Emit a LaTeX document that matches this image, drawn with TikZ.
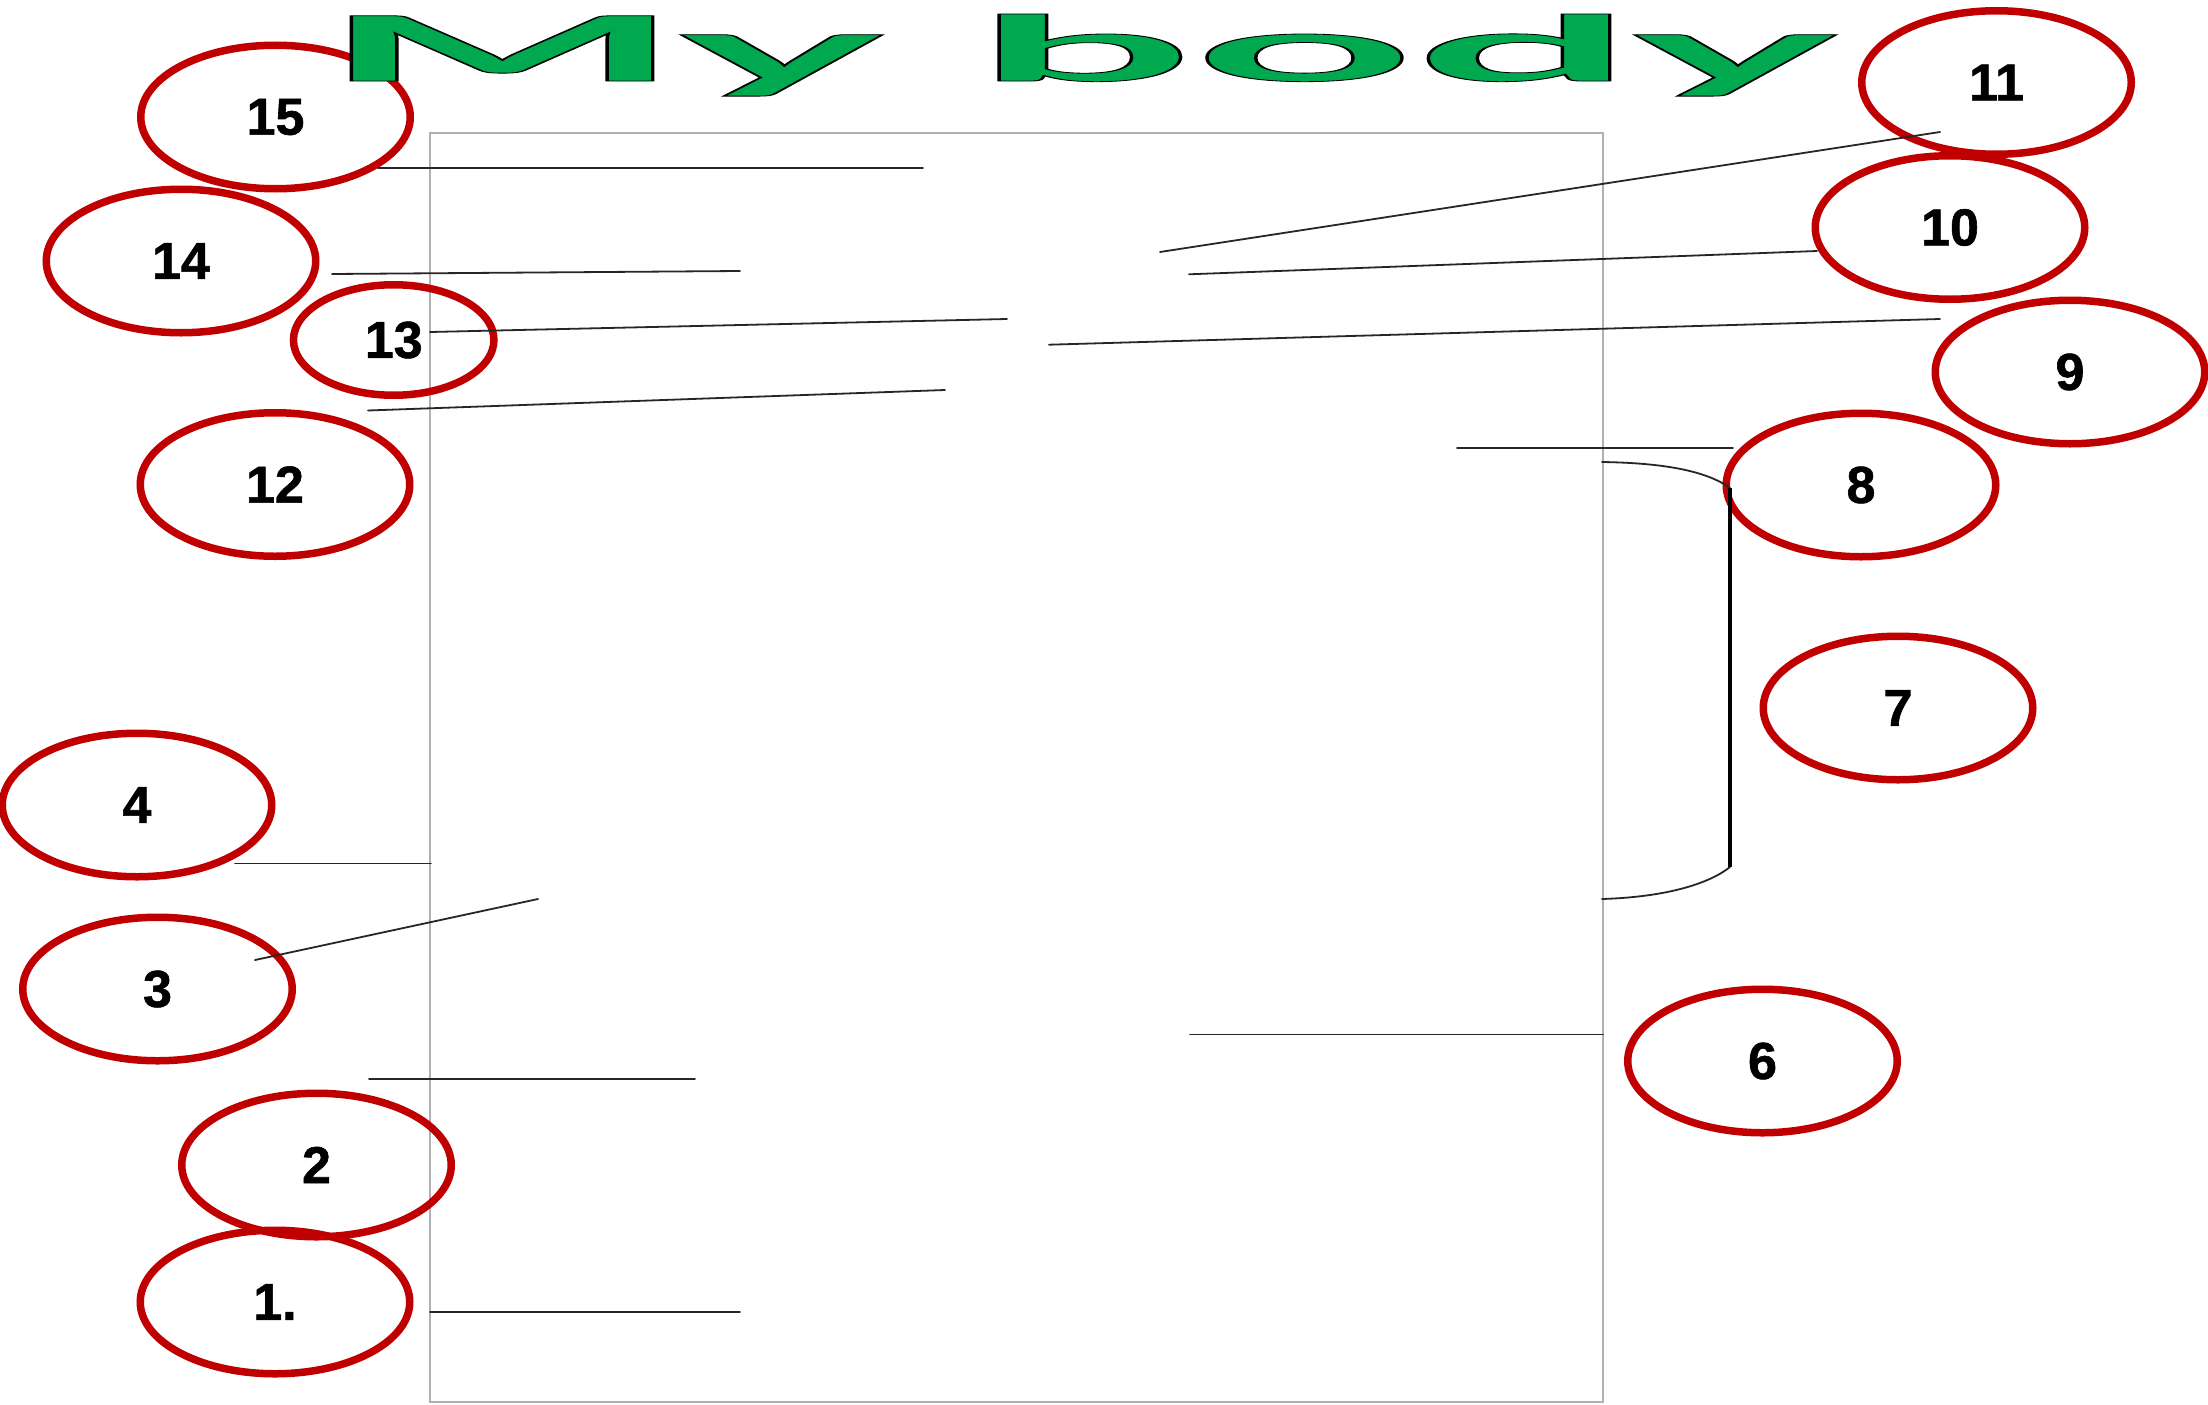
\documentclass[tikz,border=0pt]{standalone}
\usepackage{fontspec}
\setmainfont{Liberation Sans}
\newfontfamily\titlefont{Lato}
\newfontfamily\numfont[FakeBold=1.2]{Liberation Sans Bold}
\usetikzlibrary{shapes.geometric}
\definecolor{ellred}{RGB}{192,0,0}
\definecolor{titlegreen}{RGB}{0,168,80}
\definecolor{framegray}{RGB}{176,176,176}
\begin{document}
\begin{tikzpicture}[x=1pt,y=-1pt,
  lbl/.style={ellipse, draw=ellred, line width=7.5pt, minimum width=269.5pt, minimum height=143.5pt, inner sep=0pt, font=\fontsize{52}{60}\numfont},
  lblsmall/.style={lbl, minimum width=200.5pt, minimum height=110.5pt},
  leader/.style={line width=1.8pt, black!85, line cap=round},
  bracketline/.style={line width=4.5pt, black},
  frameline/.style={draw=framegray, line width=2pt},
]
\useasboundingbox (0,0) rectangle (2208,1405);
\fill[white] (0,0) rectangle (2208,1405);
% frame
\draw[frameline] (429.5,133) rectangle (1603,1402);
% label ellipses
\node[lbl] (e15) at (275.5,117) {15};
\node[lbl] (e14) at (181,261) {14};
\node[lblsmall] (e13) at (393.7,340) {13};
\node[lbl] (e12) at (275,484.5) {12};
\node[lbl] (e11) at (1996.5,82.5) {11};
\node[lbl] (e10) at (1950,227.5) {10};
\node[lbl] (e9) at (2070,372) {9};
\node[lbl] (e8) at (1861,485) {8};
\node[lbl] (e7) at (1898,708) {7};
\node[lbl] (e4) at (137,805) {4};
\node[lbl] (e3) at (157.5,989) {3};
\node[lbl] (e6) at (1762.5,1061) {6};
\node[lbl] (e2) at (316.5,1165) {2};
\node[lbl] (e1) at (275,1302) {1.};
% title
\node[inner sep=0pt, anchor=base] (title) at (1078,81) {\resizebox{1515pt}{67pt}{\titlefont\bfseries\fontsize{90}{90}\selectfont\color{titlegreen}\special{pdf:literal direct 0 0 0 RG 2 Tr 0.8 w}My body\special{pdf:literal direct 0 Tr}}};
% leader end points
\coordinate (a15) at (378,168.3);  \coordinate (b15) at (923,168.3);
\coordinate (a14) at (332,274);    \coordinate (b14) at (740,271);
\coordinate (a13) at (430,332);    \coordinate (b13) at (1007,319);
\coordinate (a12) at (368,410.5);  \coordinate (b12) at (945,390);
\coordinate (a11) at (1940,132);   \coordinate (b11) at (1160,252);
\coordinate (a10) at (1817,251);   \coordinate (b10) at (1189,274.3);
\coordinate (a9)  at (1940,319);   \coordinate (b9)  at (1049,344.7);
\coordinate (a8)  at (1733,448);   \coordinate (b8)  at (1457,448);
\coordinate (a4)  at (235,863.5);  \coordinate (b4)  at (431,863.5);
\coordinate (a3)  at (255,960);    \coordinate (b3)  at (538,899);
\coordinate (a6)  at (1603,1034.5);\coordinate (b6)  at (1190,1034.5);
\coordinate (a2)  at (369,1079);   \coordinate (b2)  at (695,1079);
\coordinate (a1)  at (430,1311.7); \coordinate (b1)  at (740,1311.7);
\foreach \i in {15,14,13,12,11,10,9,8,4,3,6,2,1} {\draw[leader] (a\i) -- (b\i);}
% bracket for 7
\coordinate (t7) at (1602,462);
\coordinate (u7) at (1730,488);
\coordinate (v7) at (1730,867);
\coordinate (w7) at (1602,899);
\draw[leader] (t7) .. controls (1668,463) and (1708,472) .. (u7);
\draw[bracketline] (u7) -- (v7);
\draw[leader] (v7) .. controls (1710,883) and (1668,897) .. (w7);
\end{tikzpicture}
\end{document}
